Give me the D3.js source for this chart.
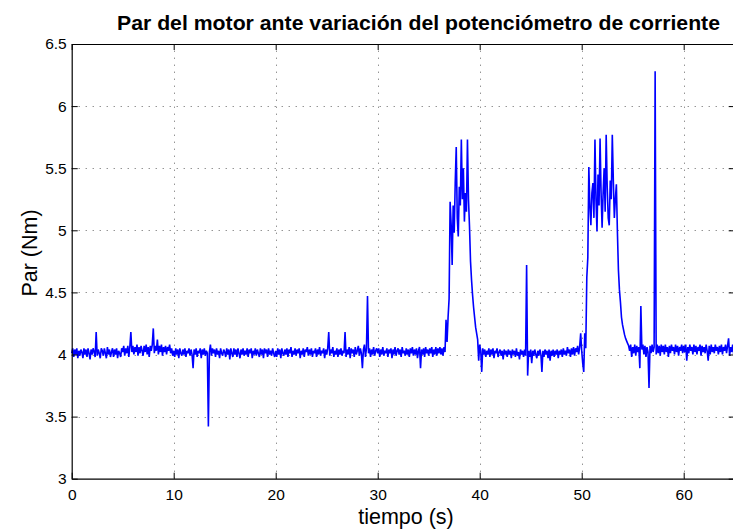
<!DOCTYPE html>
<html>
<head>
<meta charset="utf-8">
<script src="https://cdn.jsdelivr.net/npm/d3@7"></script>
<style>
  html, body { margin: 0; padding: 0; background: #fff; }
  svg { display: block; }
  text { font-family: "Liberation Sans", Arial, Helvetica, sans-serif; }
</style>
</head>
<body>
<svg id="chart" width="733" height="531"></svg>
<script>
// ---- Data (torque sampled every 0.1 s) ----
const sampleStep = 0.1;
const par00_10 = [
  4.01,4.05,3.98,4.04,4.00,4.05,3.97,4.03,3.99,4.04,
  4.02,3.97,4.05,4.00,4.04,3.98,4.05,4.01,3.96,4.04,
  4.00,4.05,4.02,3.98,4.18,3.99,4.04,4.01,3.97,4.05,
  4.03,3.99,4.05,4.01,3.97,4.06,4.00,4.04,3.98,4.02,
  4.05,3.98,4.04,4.00,4.05,3.97,4.03,4.01,3.98,4.05,
  4.02,4.07,3.99,4.05,4.01,4.07,3.98,4.06,4.18,4.02,
  4.07,4.00,4.06,4.02,4.08,3.99,4.06,4.01,4.07,4.03,
  3.99,4.07,4.02,4.08,4.00,4.06,3.98,4.07,4.03,4.08,
  4.21,4.01,4.07,4.03,4.12,4.00,4.07,4.02,4.08,3.99,
  4.06,4.02,4.07,4.00,4.06,4.03,4.08,4.01,4.05,3.99
];
const par10_20 = [
  4.03,3.98,4.05,4.00,4.04,3.97,4.05,4.01,3.99,4.04,
  4.00,4.05,3.98,4.03,4.01,4.05,3.99,4.04,4.00,3.89,
  4.04,4.00,4.05,3.98,4.03,4.01,4.05,3.97,4.04,4.00,
  4.05,3.99,4.03,4.01,3.42,4.02,4.08,3.99,4.05,4.01,
  4.04,3.98,4.05,4.00,4.03,3.97,4.05,4.01,3.99,4.04,
  4.02,3.98,4.05,4.00,4.04,3.96,4.05,4.01,3.98,4.05,
  4.00,4.04,3.98,4.05,4.01,3.97,4.04,4.00,4.05,3.99,
  4.03,4.00,4.05,3.98,4.04,4.01,4.05,3.97,4.03,4.00,
  4.05,3.99,4.04,4.01,3.98,4.05,4.00,4.04,3.97,4.05,
  4.01,4.04,3.98,4.05,4.00,4.03,3.99,4.05,4.01,3.98
];
const par20_30 = [
  4.03,3.98,4.05,4.00,4.04,3.97,4.05,4.01,3.99,4.04,
  4.00,4.05,3.98,4.04,4.01,4.06,3.98,4.03,4.00,4.05,
  3.99,4.04,4.01,4.05,3.97,4.03,4.00,4.05,3.98,4.04,
  4.02,4.06,3.99,4.04,4.00,4.05,3.98,4.03,4.01,4.05,
  3.98,4.04,4.00,4.06,3.99,4.03,4.01,4.05,3.97,4.04,
  4.00,4.05,4.18,3.99,4.04,4.01,4.06,3.98,4.03,4.00,
  4.05,3.98,4.04,4.00,4.05,3.99,4.03,4.01,4.18,3.98,
  4.04,4.00,4.06,3.97,4.05,4.01,4.04,3.98,4.06,4.00,
  4.03,4.07,3.99,4.05,4.01,3.89,4.04,4.08,3.98,4.05,
  4.47,4.01,4.05,3.98,4.04,4.00,4.06,3.99,4.03,4.05
];
const par30_40 = [
  4.01,4.05,3.98,4.04,4.00,4.06,3.99,4.03,4.01,4.05,
  3.98,4.04,4.01,4.05,3.97,4.04,4.00,4.06,3.99,4.03,
  4.05,4.00,4.04,3.98,4.06,4.01,4.03,3.99,4.05,4.00,
  4.04,3.98,4.05,4.01,4.06,3.99,4.04,4.00,4.05,3.97,
  4.03,4.06,3.89,4.04,4.00,4.05,3.98,4.06,4.01,4.04,
  3.99,4.05,4.01,4.06,3.98,4.04,4.00,4.06,3.99,4.05,
  4.01,4.06,4.00,4.05,3.99,4.06,4.02,4.28,4.10,4.30,
  4.45,5.23,5.05,4.72,5.20,4.98,5.38,5.67,5.10,4.95,
  5.35,5.20,5.73,5.25,5.50,5.07,5.30,5.15,5.73,5.25,
  5.03,4.75,4.60,4.48,4.38,4.30,4.22,4.17,4.12,3.95
];
const par40_50 = [
  4.08,4.03,3.86,4.05,4.00,4.04,3.98,4.03,4.00,4.05,
  3.98,4.04,4.00,4.05,3.97,4.03,4.01,4.05,3.98,4.02,
  4.04,3.99,4.03,3.96,4.04,4.00,4.03,3.98,4.04,4.00,
  4.03,3.97,4.04,4.00,4.03,3.98,4.05,3.99,4.02,3.96,
  4.04,4.00,4.03,3.98,4.04,3.99,4.72,3.83,4.03,3.98,
  4.04,3.93,4.03,3.99,4.04,4.00,3.97,4.03,3.99,4.04,
  4.00,3.86,4.03,3.98,4.04,4.00,4.03,3.97,4.04,3.95,
  4.03,3.99,4.04,3.98,4.03,4.00,4.04,3.97,4.03,4.00,
  4.04,3.98,4.05,4.00,4.03,3.99,4.06,4.01,4.04,3.98,
  4.05,4.00,4.06,3.99,4.05,4.02,4.07,4.00,4.06,4.17
];
const par50_60 = [
  4.03,3.93,3.86,4.17,4.05,4.62,4.78,5.51,5.20,5.04,
  5.30,5.38,5.10,5.73,5.25,4.99,5.45,5.20,5.74,5.30,
  5.02,5.30,5.50,5.15,5.77,5.35,5.10,5.04,5.40,5.25,
  5.77,5.40,5.10,5.25,5.37,4.99,4.68,4.52,4.42,4.30,
  4.24,4.20,4.16,4.13,4.11,4.09,4.07,4.03,4.08,3.98,
  4.06,4.01,4.08,3.99,4.07,4.02,4.06,3.89,4.39,4.04,
  4.08,4.00,4.07,3.98,4.06,4.02,3.73,4.07,4.01,4.08,
  4.02,4.06,6.28,4.00,4.08,4.01,4.07,3.99,4.08,4.02,
  4.07,4.00,4.08,4.02,4.06,3.98,4.07,4.01,4.08,4.03,
  4.06,4.00,4.08,4.02,4.07,3.99,4.06,4.03,4.08,4.01
];
const par60_65 = [
  4.07,4.02,4.08,3.95,4.06,4.01,4.08,4.03,4.06,4.00,
  4.08,4.02,4.07,4.00,4.06,4.03,4.08,3.99,4.07,4.02,
  4.06,4.01,4.08,4.03,3.95,4.07,4.00,4.08,4.02,4.06,
  4.01,4.08,4.03,4.06,4.00,4.07,4.02,4.08,4.00,4.06,
  4.03,4.08,4.01,4.07,4.13,3.99,4.06,4.02,4.08,4.00,
  4.05
];
const xTicks = [0, 10, 20, 30, 40, 50, 60];
const yTicks = [3, 3.5, 4, 4.5, 5, 5.5, 6, 6.5];
const titleText = "Par del motor ante variación del potenciómetro de corriente";
const xLabelText = "tiempo (s)";
const yLabelText = "Par (Nm)";

// ---- Build series ----
const values = [].concat(par00_10, par10_20, par20_30, par30_40, par40_50, par50_60, par60_65);
const series = values.map((v, i) => ({ t: +(i * sampleStep).toFixed(2), v }));

// ---- Layout ----
const svg = d3.select("#chart");
const mLeft = 71.7, mRight = 734.7, mTop = 44, mBottom = 478.7;
const x = d3.scaleLinear().domain([0, 65]).range([mLeft, mRight]);
const y = d3.scaleLinear().domain([3, 6.5]).range([mBottom, mTop]);

// grid
const grid = svg.append("g").attr("stroke", "#000").attr("stroke-width", 1)
  .attr("stroke-dasharray", "1,6").attr("opacity", 0.6);
grid.selectAll("line.gx").data(xTicks.filter(d => d > 0)).enter().append("line")
  .attr("x1", d => Math.round(x(d)) + 0.5).attr("x2", d => Math.round(x(d)) + 0.5)
  .attr("y1", mBottom).attr("y2", mTop);
grid.selectAll("line.gy").data(yTicks.filter(d => d > 3 && d < 6.5)).enter().append("line")
  .attr("y1", d => Math.round(y(d)) + 0.5).attr("y2", d => Math.round(y(d)) + 0.5)
  .attr("x1", mLeft).attr("x2", mRight);

// data line
const line = d3.line().x(d => x(d.t)).y(d => y(d.v));
svg.append("path").datum(series)
  .attr("fill", "none").attr("stroke", "#0000ff").attr("stroke-width", 1.6)
  .attr("stroke-linejoin", "miter").attr("stroke-miterlimit", 2)
  .attr("d", line);

// axes (box with inward ticks)
const tickLen = 6;
const axB = svg.append("g").attr("transform", `translate(0,${mBottom})`)
  .call(d3.axisBottom(x).tickValues(xTicks).tickSizeInner(-tickLen).tickSizeOuter(0).tickPadding(10).tickFormat(d3.format("d")));
const axT = svg.append("g").attr("transform", `translate(0,${mTop})`)
  .call(d3.axisTop(x).tickValues(xTicks).tickSizeInner(-tickLen).tickSizeOuter(0).tickFormat(""));
const axL = svg.append("g").attr("transform", `translate(${mLeft},0)`)
  .call(d3.axisLeft(y).tickValues(yTicks).tickSizeInner(-tickLen).tickSizeOuter(0).tickPadding(5).tickFormat(d => d3.format("")(d)));
const axR = svg.append("g").attr("transform", `translate(${mRight},0)`)
  .call(d3.axisRight(y).tickValues(yTicks).tickSizeInner(-tickLen).tickSizeOuter(0).tickFormat(""));

[axB, axT, axL, axR].forEach(g => {
  g.select(".domain").attr("stroke", "#000").attr("stroke-width", 1.2);
  g.selectAll(".tick line").attr("stroke", "#000");
  g.selectAll("text").attr("font-size", 15.5).attr("fill", "#000")
    .attr("font-family", "'Liberation Sans', Arial, sans-serif");
});
axB.selectAll("text").attr("dy", "0.71em");

// title and labels
svg.append("text").attr("x", 418.5).attr("y", 30)
  .attr("text-anchor", "middle").attr("font-size", 19.5).attr("font-weight", "bold")
  .attr("textLength", 603).attr("lengthAdjust", "spacingAndGlyphs")
  .text(titleText);
svg.append("text").attr("x", 406).attr("y", 524)
  .attr("text-anchor", "middle").attr("font-size", 21.5).text(xLabelText);
svg.append("text").attr("transform", `translate(37,253) rotate(-90)`)
  .attr("text-anchor", "middle").attr("font-size", 21.5).text(yLabelText);
</script>
</body>
</html>
